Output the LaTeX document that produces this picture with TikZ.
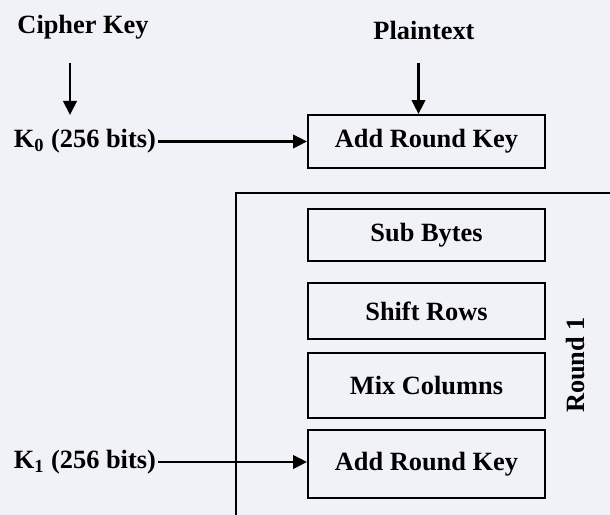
\documentclass[tikz,border=0pt]{standalone}
\usepackage{fontspec}
\setmainfont{Liberation Serif}
\usetikzlibrary{arrows.meta}
\usetikzlibrary{positioning}
\definecolor{paper}{RGB}{241,242,248}

\begin{document}
\begin{tikzpicture}[
    box/.style={draw, line width=1.1pt, minimum width=4.74cm, font=\fontsize{15}{18}\selectfont\bfseries}, % Style for the step boxes
    lbl/.style={inner sep=1pt, font=\fontsize{15}{18}\selectfont\bfseries}, % Style for the text labels
    arr/.style={-{Triangle[length=2.8mm, width=2.7mm]}, line width=1.2pt} % Style for the arrows
]

% Page
\fill[paper] (0,0) rectangle (12.2,10.3);
\useasboundingbox (0,0) rectangle (12.2,10.3);

% Steps
\node[box, minimum height=1.06cm] (ark0) at (8.53,7.47) {Add Round Key};
\node[box, minimum height=1.04cm] (sub) at (8.53,5.6) {Sub Bytes};
\node[box, minimum height=1.12cm] (shift) at (8.53,4.08) {Shift Rows};
\node[box, minimum height=1.3cm] (mix) at (8.53,2.59) {Mix Columns};
\node[box, minimum height=1.36cm] (ark1) at (8.53,1.02) {Add Round Key};

% Round frame (runs off the page to the right and bottom)
\coordinate (fr) at (12.2,6.44);
\coordinate (fc) at (4.72,6.44);
\coordinate (fb) at (4.72,0);
\draw[line width=1.1pt] (fr) -- (fc) -- (fb);
\node[lbl, rotate=90] (round) at (11.52,3.0) {Round 1};

% Inputs
\node[lbl] (cipher) at (1.66,9.75) {Cipher Key};
\node[lbl] (plain) at (8.48,9.7) {Plaintext};
\node[lbl, anchor=east] (k0) at (3.16,7.47) {K\textsubscript{0} (256 bits)};
\node[lbl, anchor=east] (k1) at (3.16,1.06) {K\textsubscript{1} (256 bits)};

% --- Arrows ---
\coordinate (c0) at (1.4,9.04);
\coordinate (c1) at (1.4,8.0);
\draw[arr] (c0) -- (c1);

\coordinate (p0) at (8.37,9.04);
\draw[arr] (p0) -- (p0 |- ark0.north);

\draw[arr] (k0) -- (ark0);
\draw[arr] (k1.east) -- (k1.east -| ark1.west);

\end{tikzpicture}
\end{document}
